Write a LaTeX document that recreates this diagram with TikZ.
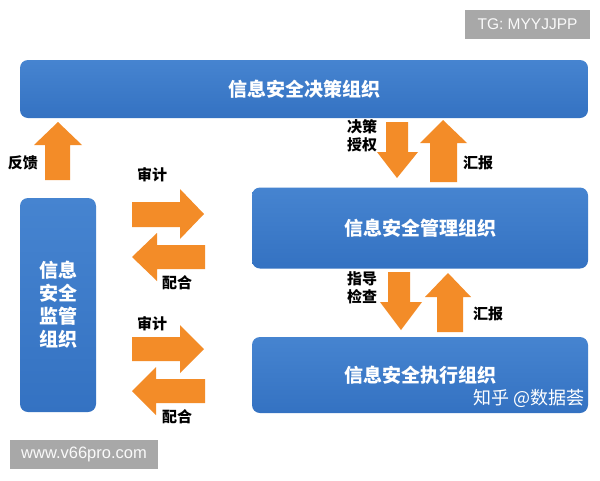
\documentclass[tikz,border=0pt]{standalone}
\usepackage{fontspec}
\newfontfamily\cjk{Noto Sans CJK SC}
\newfontfamily\lat{Liberation Sans}
\definecolor{boxblue}{RGB}{52,114,194}
\definecolor{boxtop}{RGB}{70,132,208}
\definecolor{arrorange}{RGB}{243,140,40}
\definecolor{wmgray}{RGB}{168,168,168}
\begin{document}
\begin{tikzpicture}[x=1pt,y=-1pt,
  orgbox/.style={rounded corners=8pt, top color=boxtop, bottom color=boxblue, draw=none,
    text=white, font=\cjk\bfseries\fontsize{19}{23}\selectfont, align=center, inner sep=0pt},
  barrow/.style={fill=arrorange, draw=none},
  lbl/.style={font=\cjk\bfseries\fontsize{15}{18}\selectfont, text=black, align=center, inner sep=0pt},
  wm/.style={fill=wmgray, text=white!96!gray, inner sep=0pt},
  credit/.style={text=white, font=\cjk\fontsize{18}{20}\selectfont, inner sep=0pt}]
\useasboundingbox (0,0) rectangle (600,480);
\fill[white] (0,0) rectangle (600,480);

% boxes
\node[orgbox, minimum width=568pt, minimum height=58pt] (top) at (304,89) {信息安全决策组织};
\node[orgbox, minimum width=76pt, minimum height=214pt] (left) at (58,305) {信息\\安全\\监管\\组织};
\node[orgbox, minimum width=336pt, minimum height=81pt] (mid) at (420,228) {信息安全管理组织};
\node[orgbox, minimum width=336pt, minimum height=76pt] (bot) at (420,375) {信息安全执行组织};

% block arrows
% feedback (up)
\fill[barrow] (45,180) -- (45,145) -- (34,145) -- (58,122) -- (82,145) -- (70,145) -- (70,180) -- cycle;
% audit 1 (right)
\fill[barrow] (132,202) -- (180,202) -- (180,189) -- (204,214) -- (180,239) -- (180,227) -- (132,227) -- cycle;
% cooperate 1 (left)
\fill[barrow] (205,245) -- (157,245) -- (157,233) -- (132,257) -- (157,281) -- (157,269) -- (205,269) -- cycle;
% audit 2 (right)
\fill[barrow] (132,337) -- (180,337) -- (180,325) -- (204,349) -- (180,373) -- (180,361) -- (132,361) -- cycle;
% cooperate 2 (left)
\fill[barrow] (205,379) -- (156,379) -- (156,367) -- (132,391) -- (156,415) -- (156,403) -- (205,403) -- cycle;
% decision (down)
\fill[barrow] (386,122) -- (408,122) -- (408,152) -- (418,152) -- (397,178) -- (377,152) -- (386,152) -- cycle;
% report 1 (up)
\fill[barrow] (430,182) -- (430,143) -- (420,143) -- (443,120) -- (467,143) -- (457,143) -- (457,182) -- cycle;
% guide (down)
\fill[barrow] (388,272) -- (410,272) -- (410,302) -- (422,302) -- (401,330) -- (380,302) -- (388,302) -- cycle;
% report 2 (up)
\fill[barrow] (437,332) -- (437,297) -- (425,297) -- (448,273) -- (471,297) -- (463,297) -- (463,332) -- cycle;

% labels
\node[lbl] (fk) at (23,163) {反馈};
\node[lbl] (sj1) at (152,175) {审计};
\node[lbl] (ph1) at (177,283) {配合};
\node[lbl] (sj2) at (152,324) {审计};
\node[lbl] (ph2) at (177,417) {配合};
\node[lbl] (jc) at (362,136) {决策\\授权};
\node[lbl] (hb1) at (478,163) {汇报};
\node[lbl] (zd) at (362,288) {指导\\检查};
\node[lbl] (hb2) at (488,314) {汇报};

% watermarks
\node[wm, font=\lat\fontsize{15.5}{17}\selectfont, minimum width=125pt, minimum height=29pt] (tg) at (527.5,24.5) {TG: MYYJJPP};
\node[wm, font=\lat\fontsize{16.5}{18}\selectfont, minimum width=148pt, minimum height=29pt] (www) at (84,454.5) {www.v66pro.com};
\node[credit, anchor=east] (zh) at (585,398) {知乎 @数据荟};
\end{tikzpicture}
\end{document}
